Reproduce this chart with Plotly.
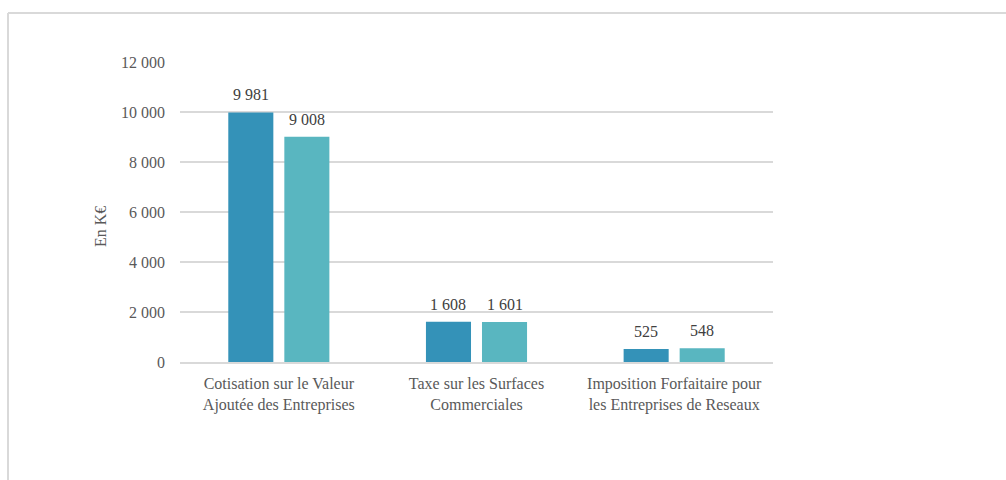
import plotly.graph_objects as go

# Categories (taxes) and the two series, in K€
categories = [
    "Cotisation sur le Valeur<br>Ajoutée des Entreprises",
    "Taxe sur les Surfaces<br>Commerciales",
    "Imposition Forfaitaire pour<br>les Entreprises de Reseaux",
]
serie_1 = [9981, 1608, 525]
serie_2 = [9008, 1601, 548]
y_ticks = [0, 2000, 4000, 6000, 8000, 10000, 12000]
y_tick_labels = ["0", "2 000", "4 000", "6 000", "8 000", "10 000", "12 000"]

COLOR_1 = "#3492b8"
COLOR_2 = "#59b6c0"
TEXT = "#595959"
LABEL = "#404040"
GRID = "#d9d9d9"
FONT = "'Liberation Serif', 'Times New Roman', 'DejaVu Serif', serif"
FS = 16

L, R, T, B = 180, 233, 62, 118
W, H = 1006, 480
pw, ph = W - L - R, H - T - B

BARGAP = 0.433
GROUPGAP = 0.196


def fmt(v):
    return f"{v:,}".replace(",", " ")


fig = go.Figure()
for name, vals, col in [("Série 1", serie_1, COLOR_1), ("Série 2", serie_2, COLOR_2)]:
    fig.add_trace(go.Bar(
        name=name, x=categories, y=vals,
        marker=dict(color=col, line=dict(width=0)),
        hoverinfo="x+y",
    ))

# Value labels above each bar, offset to the bar's slot within its group
cat_px = pw / len(categories)
slot_px = cat_px * (1 - BARGAP) / 2
annotations = []
for k, vals in enumerate([serie_1, serie_2]):
    shift = (k - 0.5) * slot_px
    for c, v in zip(categories, vals):
        annotations.append(dict(
            x=c, y=v, xref="x", yref="y", text=fmt(v),
            showarrow=False, xanchor="center", yanchor="bottom",
            xshift=shift, yshift=7,
            font=dict(family=FONT, size=FS, color=LABEL),
        ))

annotations.append(dict(
    text="En K€", textangle=-90,
    xref="paper", yref="paper",
    x=(100 - L) / pw, y=(H - B - 227) / ph,
    showarrow=False, xanchor="center", yanchor="middle",
    font=dict(family=FONT, size=FS, color=TEXT),
))

fig.update_layout(
    width=W, height=H,
    margin=dict(l=L, r=R, t=T, b=B, autoexpand=False),
    paper_bgcolor="white", plot_bgcolor="white",
    barmode="group", bargap=BARGAP, bargroupgap=GROUPGAP,
    showlegend=False,
    font=dict(family=FONT, size=FS, color=TEXT),
    xaxis=dict(
        showline=True, linecolor=GRID, linewidth=1.5,
        ticks="", ticklabelstandoff=6,
        tickfont=dict(family=FONT, size=FS, color=TEXT),
        automargin=False,
    ),
    yaxis=dict(
        range=[0, 12000], tickvals=y_ticks, ticktext=y_tick_labels,
        showgrid=True, gridcolor=GRID, gridwidth=1.5,
        zeroline=False, showline=False, ticks="",
        ticklabelstandoff=14,
        tickfont=dict(family=FONT, size=FS, color=TEXT),
        automargin=False,
    ),
    annotations=annotations,
)

# Light frame around the chart area (left and top edges)
fx = (8 - L) / pw
fy = (H - B - 13) / ph
fig.add_shape(type="line", xref="paper", yref="paper",
              x0=fx, x1=fx, y0=fy, y1=-1.0,
              line=dict(color=GRID, width=2))
fig.add_shape(type="line", xref="paper", yref="paper",
              x0=fx, x1=2.0, y0=fy, y1=fy,
              line=dict(color=GRID, width=2))

fig.write_html("out.html")
